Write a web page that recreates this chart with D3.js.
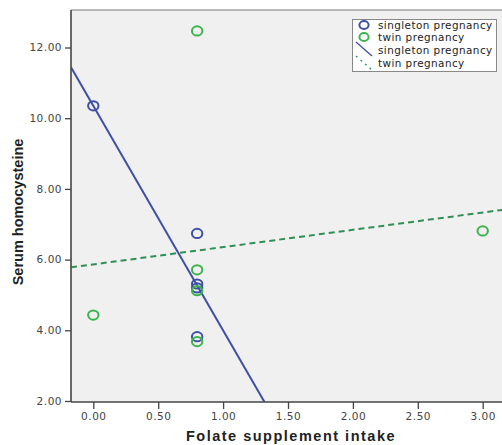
<!DOCTYPE html>
<html>
<head>
<meta charset="utf-8">
<script src="https://cdn.jsdelivr.net/npm/d3@7"></script>
<style>
  html, body { margin: 0; padding: 0; background: #fff; }
  svg { display: block; }
</style>
</head>
<body>
<svg id="chart" width="502" height="445"></svg>
<script>
// Folate intake vs. serum homocysteine, by pregnancy type
const singletonX = [0.0, 0.8, 0.8, 0.8, 0.8];
const singletonY = [10.35, 6.74, 5.31, 5.20, 3.82];
const twinX = [0.0, 0.8, 0.8, 0.8, 0.8, 3.0];
const twinY = [4.43, 12.47, 5.71, 5.12, 3.68, 6.81];
const xTicks = [0, 0.5, 1, 1.5, 2, 2.5, 3];
const yTicks = [2, 4, 6, 8, 10, 12];
const legendLabels = ["singleton pregnancy", "twin pregnancy", "singleton pregnancy", "twin pregnancy"];

const blue = "#3f4fa6";
const green = "#3cb44b";
const greenLine = "#2f8f55";

const svg = d3.select("#chart");
const pLeft = 71, pTop = 10, pRight = 505, pBottom = 402;

const x = d3.scaleLinear().domain([0, 3]).range([93.3, 482.7]);
const y = d3.scaleLinear().domain([2, 12]).range([401, 47.5]);
const xMin = x.invert(pLeft), xMax = x.invert(pRight);

// plot background
svg.append("rect").attr("x", pLeft).attr("y", pTop)
  .attr("width", pRight - pLeft).attr("height", pBottom - pTop)
  .attr("fill", "#f0f0f0");

svg.append("defs").append("clipPath").attr("id", "plotclip")
  .append("rect").attr("x", pLeft).attr("y", pTop)
  .attr("width", pRight - pLeft).attr("height", pBottom - pTop);

// least-squares fit
function fit(xs, ys) {
  const mx = d3.mean(xs), my = d3.mean(ys);
  let sxy = 0, sxx = 0;
  xs.forEach((v, i) => { sxy += (v - mx) * (ys[i] - my); sxx += (v - mx) * (v - mx); });
  const b = sxy / sxx;
  return { a: my - b * mx, b };
}

const plot = svg.append("g").attr("clip-path", "url(#plotclip)");

const fS = fit(singletonX, singletonY);
const fT = fit(twinX, twinY);
const line = d3.line().x(d => x(d[0])).y(d => y(d[1]));

plot.append("path")
  .attr("d", line([[xMin, fS.a + fS.b * xMin], [xMax, fS.a + fS.b * xMax]]))
  .attr("stroke", blue).attr("stroke-width", 2).attr("fill", "none");

plot.append("path")
  .attr("d", line([[xMin, fT.a + fT.b * xMin], [xMax, fT.a + fT.b * xMax]]))
  .attr("stroke", greenLine).attr("stroke-width", 2).attr("fill", "none")
  .attr("stroke-dasharray", "6,4");

// points
const sPts = singletonX.map((v, i) => [v, singletonY[i]]);
const tPts = twinX.map((v, i) => [v, twinY[i]]);

plot.selectAll(".s").data(sPts).enter().append("ellipse")
  .attr("cx", d => x(d[0])).attr("cy", d => y(d[1]))
  .attr("rx", 5.2).attr("ry", 4.6)
  .attr("fill", "none").attr("stroke", blue).attr("stroke-width", 2);

plot.selectAll(".t").data(tPts).enter().append("ellipse")
  .attr("cx", d => x(d[0])).attr("cy", d => y(d[1]))
  .attr("rx", 5.2).attr("ry", 4.6)
  .attr("fill", "none").attr("stroke", green).attr("stroke-width", 2);

// frame
svg.append("line").attr("x1", pLeft).attr("x2", pRight).attr("y1", pTop).attr("y2", pTop)
  .attr("stroke", "#777").attr("stroke-width", 1.2);
svg.append("line").attr("x1", pLeft).attr("x2", pLeft).attr("y1", pTop).attr("y2", pBottom)
  .attr("stroke", "#444").attr("stroke-width", 1.6);
svg.append("line").attr("x1", pLeft).attr("x2", pRight).attr("y1", pBottom).attr("y2", pBottom)
  .attr("stroke", "#444").attr("stroke-width", 1.4);

// axes
const xAxis = d3.axisBottom(x).tickValues(xTicks).tickFormat(d3.format(".2f"))
  .tickSize(7).tickSizeOuter(0).tickPadding(4);
const gx = svg.append("g").attr("transform", `translate(0,${pBottom})`).call(xAxis);
gx.select(".domain").remove();
gx.selectAll(".tick line").attr("stroke", "#444").attr("stroke-width", 1.3);
gx.selectAll(".tick text").attr("fill", "#444")
  .style("font-family", "'DejaVu Sans', sans-serif").style("font-size", "10.5px")
  .style("letter-spacing", "0.5px");

const yAxis = d3.axisLeft(y).tickValues(yTicks).tickFormat(d3.format(".2f"))
  .tickSize(6).tickSizeOuter(0).tickPadding(3);
const gy = svg.append("g").attr("transform", `translate(${pLeft},0)`).call(yAxis);
gy.select(".domain").remove();
gy.selectAll(".tick line").attr("stroke", "#444").attr("stroke-width", 1.3);
gy.selectAll(".tick text").attr("fill", "#444")
  .style("font-family", "'DejaVu Sans', sans-serif").style("font-size", "10.5px")
  .style("letter-spacing", "0.5px");

// axis titles
svg.append("text").attr("x", 291).attr("y", 441).attr("text-anchor", "middle")
  .style("font-family", "'Liberation Sans', Arial, sans-serif")
  .style("font-size", "14.5px").style("font-weight", "bold").style("letter-spacing", "1.5px")
  .attr("fill", "#222").text("Folate supplement intake");

svg.append("text").attr("transform", "translate(23,212) rotate(-90)").attr("text-anchor", "middle")
  .style("font-family", "'Liberation Sans', Arial, sans-serif")
  .style("font-size", "14.5px").style("font-weight", "bold")
  .attr("fill", "#222").text("Serum homocysteine");

// legend
const lg = svg.append("g");
lg.append("rect").attr("x", 352.5).attr("y", 19.5).attr("width", 144).attr("height", 52)
  .attr("fill", "#fff").attr("stroke", "#888").attr("stroke-width", 1);
const rowY = [25, 37, 50, 63];
lg.append("ellipse").attr("cx", 364).attr("cy", rowY[0]).attr("rx", 4.6).attr("ry", 4)
  .attr("fill", "none").attr("stroke", blue).attr("stroke-width", 2);
lg.append("ellipse").attr("cx", 364).attr("cy", rowY[1]).attr("rx", 4.6).attr("ry", 4)
  .attr("fill", "none").attr("stroke", green).attr("stroke-width", 2);
lg.append("line").attr("x1", 356).attr("y1", rowY[2] - 8).attr("x2", 372).attr("y2", rowY[2] + 6)
  .attr("stroke", blue).attr("stroke-width", 1.3);
lg.append("line").attr("x1", 356).attr("y1", rowY[3] - 7).attr("x2", 372).attr("y2", rowY[3] + 7)
  .attr("stroke", greenLine).attr("stroke-width", 1.3).attr("stroke-dasharray", "2,4");
lg.selectAll(".lt").data(legendLabels).enter().append("text")
  .attr("x", 378).attr("y", (d, i) => rowY[i] + 3.5)
  .style("font-family", "'DejaVu Sans', sans-serif").style("font-size", "10.4px")
  .style("letter-spacing", "0.45px")
  .attr("fill", "#222").text(d => d);
</script>
</body>
</html>
